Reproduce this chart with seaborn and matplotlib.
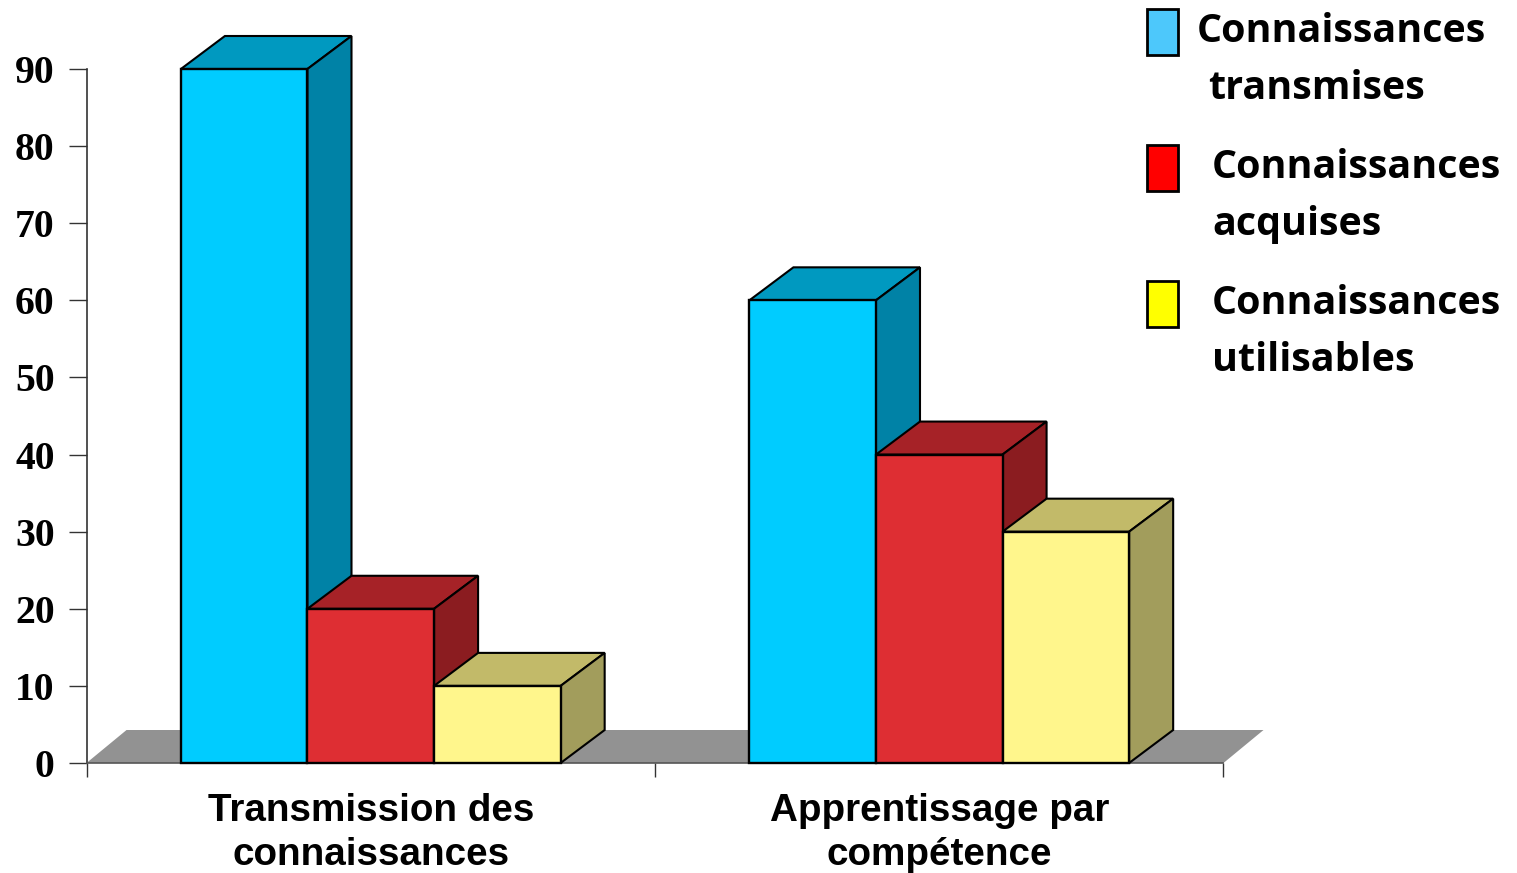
import pandas as pd
import matplotlib
matplotlib.use('Agg')
import matplotlib.pyplot as plt
from matplotlib.patches import Polygon, Rectangle
import seaborn as sns

categories = ['Transmission des\nconnaissances', 'Apprentissage par\ncompétence']
series = ['Connaissances transmises', 'Connaissances acquises', 'Connaissances utilisables']
transmises = [90, 60]
acquises = [20, 40]
utilisables = [10, 30]
yticks = [0, 10, 20, 30, 40, 50, 60, 70, 80, 90]

front = ['#00ccff', '#de2e33', '#fff68c']
top = ['#0099c0', '#a62227', '#c2ba69']
side = ['#0082a6', '#8b1c20', '#a29d5c']
legend_cols = ['#4dc8fb', '#ff0000', '#ffff00']
legend_txt = [('Connaissances', 'transmises'), ('Connaissances', 'acquises'), ('Connaissances', 'utilisables')]

W, H = 1517, 873
df = pd.DataFrame({'cat': categories * 3,
                   'serie': [s for s in series for i in categories],
                   'val': transmises + acquises + utilisables})

fig = plt.figure(figsize=(W / 100, H / 100), dpi=100, facecolor='white')
ax = fig.add_axes([86.5 / W, 1 - 763 / H, (1223.5 - 86.5) / W, 694 / H])
sns.barplot(data=df, x='cat', y='val', hue='serie', palette=front, width=0.668, gap=0,
            saturation=1, edgecolor='black', linewidth=1.7, legend=False, ax=ax, zorder=3)
ax.set_xlim(-0.5, 1.5)
ax.set_ylim(0, 90)
ax.set_xlabel('')
ax.set_ylabel('')

# depth of the fake 3d, in data units
dx = 44 / 568
dy = 33 / (694 / 90)
floor_dx = 40 / 568

# grey floor
ax.add_patch(Polygon([(-0.5, 0), (1.5, 0), (1.5 + floor_dx, dy), (-0.5 + floor_dx, dy)], closed=True,
                     facecolor='#929292', edgecolor='none', zorder=1, clip_on=False))

bars = [b for c in ax.containers for b in c]
for n, b in enumerate(bars):
    s = n // 2
    x0, x1, h = b.get_x(), b.get_x() + b.get_width(), b.get_height()
    ax.add_patch(Polygon([(x0, h), (x1, h), (x1 + dx, h + dy), (x0 + dx, h + dy)], closed=True,
                         facecolor=top[s], edgecolor='black', linewidth=1.5, clip_on=False, zorder=2 + 2 * s))
    ax.add_patch(Polygon([(x1, 0), (x1, h), (x1 + dx, h + dy), (x1 + dx, dy)], closed=True,
                         facecolor=side[s], edgecolor='black', linewidth=1.5, clip_on=False, zorder=2 + 2 * s))
    b.set_zorder(3 + 2 * s)
    b.set_clip_on(False)

sns.despine(ax=ax)
ax.set_yticks(yticks)
ax.set_xticks([-0.5, 0.5, 1.5])
ax.set_xticklabels([])
ax.tick_params(axis='y', length=13, width=1, pad=10, color='#333333')
ax.tick_params(axis='x', length=10, width=1, color='#333333')
ax.spines['left'].set_linewidth(1.2)
ax.spines['left'].set_color('#333333')
ax.spines['bottom'].set_linewidth(1.2)
ax.spines['bottom'].set_color('#555555')
for t in ax.get_yticklabels():
    t.set_fontfamily('Liberation Serif')
    t.set_fontweight('bold')
    t.set_fontsize(28.5)
for i, c in enumerate(categories):
    ax.annotate(c, (i, 0), xytext=(0, -21.5), textcoords='offset points', ha='center', va='top',
                fontfamily='Liberation Sans', fontweight='bold', fontsize=27.8, linespacing=1.29)

# hand placed legend like the original slide
leg_y = [32, 168, 304]
leg_x = [(1197, 1208), (1212, 1212), (1212, 1212)]
for i, col in enumerate(legend_cols):
    fig.add_artist(Rectangle((1147 / W, 1 - (leg_y[i] + 23) / H), 31 / W, 46 / H, facecolor=col,
                             edgecolor='black', linewidth=2, transform=fig.transFigure))
    l1, l2 = legend_txt[i]
    fig.text(leg_x[i][0] / W, 1 - (leg_y[i] - 1) / H, l1, fontfamily='Open Sans', fontweight='bold',
             fontsize=28.4, va='center', ha='left', color='black')
    fig.text(leg_x[i][1] / W, 1 - (leg_y[i] + 56.5) / H, l2, fontfamily='Open Sans', fontweight='bold',
             fontsize=28.4, va='center', ha='left', color='black')

fig.savefig('out.png', dpi=100)
